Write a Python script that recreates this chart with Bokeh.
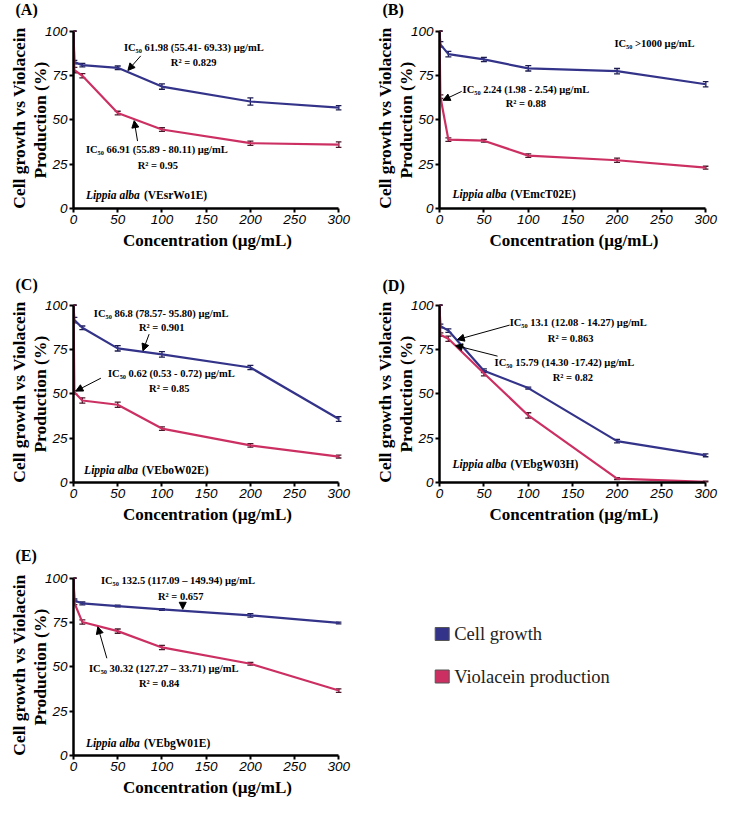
from bokeh.plotting import figure
from bokeh.layouts import column, row
from bokeh.models import Range1d, FixedTicker, ColumnDataSource, Whisker, TeeHead, Arrow, NormalHead
from bokeh.core.properties import value
from bokeh.embed import file_html
from bokeh.resources import INLINE

# ---------------- data ----------------
conc = [0, 1, 10, 50, 100, 200, 300]
x_ticks = [0, 50, 100, 150, 200, 250, 300]
y_ticks = [0, 25, 50, 75, 100]

A_growth = [100, 82.5, 80.8, 79.3, 68.7, 60.3, 56.8]
A_growth_err = [0, 1.0, 1.0, 1.0, 1.5, 2.0, 1.2]
A_viol = [100, 78.0, 74.8, 53.8, 44.5, 36.8, 36.0]
A_viol_err = [0, 1.5, 1.2, 1.0, 1.0, 1.2, 1.5]

B_growth = [100, 92.5, 87.0, 84.0, 79.0, 77.4, 70.0]
B_growth_err = [0, 1.5, 1.5, 1.2, 1.5, 1.5, 1.5]
B_viol = [100, 63.0, 38.8, 38.2, 29.8, 27.2, 23.0]
B_viol_err = [0, 1.0, 1.0, 0.8, 1.0, 1.2, 0.8]

C_growth = [100, 91.5, 87.2, 75.6, 72.2, 64.8, 35.8]
C_growth_err = [0, 1.5, 1.0, 1.5, 1.5, 1.2, 1.3]
C_viol = [100, 50.8, 46.2, 43.8, 30.4, 20.9, 14.6]
C_viol_err = [0, 1.0, 1.5, 1.5, 1.0, 1.0, 0.8]

D_growth = [100, 88.2, 85.6, 63.0, 53.2, 23.3, 15.3]
D_growth_err = [0, 1.0, 1.0, 1.0, 0.5, 1.0, 0.8]
D_viol = [100, 83.3, 81.0, 61.6, 37.8, 2.2, 0.4]
D_viol_err = [0, 1.0, 1.5, 1.5, 1.5, 0.5, 0.3]

E_growth = [100, 87.4, 85.7, 84.2, 82.3, 79.0, 74.7]
E_growth_err = [0, 0.8, 0.8, 0.5, 0.5, 1.0, 0.5]
E_viol = [100, 86.0, 75.2, 70.1, 60.9, 51.7, 36.6]
E_viol_err = [0, 1.0, 1.2, 1.2, 1.2, 0.8, 1.0]

row1_tags = ["(A)", "(B)"]
row2_tags = ["(C)", "(D)"]
row3_tags = ["(E)"]
strains = ["(VEsrWo1E)", "(VEmcT02E)", "(VEboW02E)", "(VEbgW03H)", "(VEbgW01E)"]

A_notes = ["IC₅₀ 61.98 (55.41- 69.33) µg/mL", "R² = 0.829",
           "IC₅₀ 66.91 (55.89 - 80.11) µg/mL", "R² = 0.95"]
B_notes = ["IC₅₀ >1000 µg/mL", "IC₅₀ 2.24 (1.98 - 2.54) µg/mL", "R² = 0.88"]
C_notes = ["IC₅₀ 86.8 (78.57- 95.80) µg/mL", "R² = 0.901",
           "IC₅₀ 0.62 (0.53 - 0.72) µg/mL", "R² = 0.85"]
D_notes = ["IC₅₀ 13.1 (12.08 - 14.27) µg/mL", "R² = 0.863",
           "IC₅₀ 15.79 (14.30 -17.42) µg/mL", "R² = 0.82"]
E_notes = ["IC₅₀ 132.5 (117.09 – 149.94) µg/mL", "R² = 0.657",
           "IC₅₀ 30.32 (127.27 – 33.71) µg/mL", "R² = 0.84"]

legend_labels = ["Cell growth", "Violacein production"]

# ---------------- positions / styles ----------------
BLUE = "#33338a"
RED = "#cc3063"
BLUE_ERR = "#1c1c50"
RED_ERR = "#4a1a2c"
legend_colors = [BLUE, RED]

A_notes_pos = [(57, 91), (110, 82), (14, 33), (72.5, 24.4)]
B_notes_pos = [(197, 93), (26, 67), (74.5, 59.3)]
C_notes_pos = [(23, 95.5), (74, 87.6), (39, 61.6), (85.5, 53)]
D_notes_pos = [(79, 90), (122, 81.4), (62, 67.8), (127.5, 59.3)]
E_notes_pos = [(31, 98.5), (95.5, 89.8), (17.5, 49), (74, 40.7)]

A_arrows = [(76, 86, 61.5, 77.8), (72.4, 38, 68.6, 49.5)]
B_arrows = [(25, 66, 4, 61)]
C_arrows = [(85.5, 83.6, 78.5, 74.2), (31, 58.8, 2.6, 51.5)]
D_arrows = [(79, 88.7, 20, 80.5), (65.4, 71.2, 18, 77.2)]
E_arrows = [(123.5, 86.4, 123.5, 82.4), (37.7, 54.8, 27.5, 72.5)]

strain_pos = [(14, 7.5), (14.7, 7.9), (12, 7.3), (14.7, 10.2), (14, 6.8)]

# tag strips, in page pixels (x from left, y from top)
row1_tag_xy = [(15, 8.5), (382, 8.5)]
row2_tag_xy = [(15, 284), (382, 284.5)]
row3_tag_xy = [(15, 555)]

SERIF = "Liberation Serif"
SANS = "Liberation Sans"
W = 743


def tag_strip(y0, y1, tags, xy):
    s = figure(width=W, height=y1 - y0, x_range=Range1d(0, W), y_range=Range1d(y1, y0),
               output_backend="svg", toolbar_location=None, min_border=0)
    s.title.visible = False
    s.axis.visible = False
    s.grid.visible = False
    s.outline_line_color = None
    s.text(x=[q[0] for q in xy], y=[q[1] for q in xy], text=tags, text_font=value(SERIF),
           text_font_size="16px", text_font_style="bold", text_baseline="middle",
           text_align="left", text_color="black")
    return s


def make_panel(i, growth, growth_err, viol, viol_err, notes, notes_pos, arrows,
               width, height, left, right, top, bottom):
    p = figure(width=width, height=height, x_range=Range1d(0, 303), y_range=Range1d(0, 102),
               output_backend="svg", toolbar_location=None,
               min_border_left=left, min_border_right=right,
               min_border_top=top, min_border_bottom=bottom)
    p.title.visible = False
    p.outline_line_color = None
    p.grid.visible = False

    for ax in (p.xaxis[0], p.yaxis[0]):
        ax.axis_line_width = 2.5
        ax.axis_line_color = "black"
        ax.major_tick_line_width = 2
        ax.major_tick_out = 4
        ax.major_tick_in = 0
        ax.minor_tick_line_color = None
        ax.major_label_text_font = SANS
        ax.major_label_text_font_style = "italic"
        ax.major_label_text_color = "black"
        ax.major_label_text_font_size = "13.5px"
        ax.major_label_standoff = 2
        ax.axis_label_text_font = SERIF
        ax.axis_label_text_font_style = "bold"
        ax.axis_label_text_color = "black"
    p.xaxis.bounds = (0, 300)
    p.yaxis.bounds = (0, 100)
    p.xaxis.ticker = FixedTicker(ticks=x_ticks)
    p.yaxis.ticker = FixedTicker(ticks=y_ticks)
    p.xaxis.axis_label = "Concentration (µg/mL)"
    p.xaxis.axis_label_text_font_size = "17px"
    p.xaxis.axis_label_standoff = 4
    p.yaxis.axis_label = "Cell growth vs Violacein\nProduction  (%)"
    p.yaxis.axis_label_text_font_size = "17.5px"
    p.yaxis.axis_label_standoff = -8
    p.yaxis.axis_label_text_line_height = 1.05

    for vals, errs, col, ecol in ((growth, growth_err, BLUE, BLUE_ERR), (viol, viol_err, RED, RED_ERR)):
        src = ColumnDataSource(dict(x=conc, y=vals,
                                    up=[v + e for v, e in zip(vals, errs)],
                                    lo=[v - e for v, e in zip(vals, errs)]))
        p.line("x", "y", source=src, line_color=col, line_width=2.2)
        w = Whisker(base="x", upper="up", lower="lo", source=src, dimension="height",
                    line_color=ecol, line_width=1.3,
                    upper_head=TeeHead(size=6, line_color=ecol, line_width=1.3),
                    lower_head=TeeHead(size=6, line_color=ecol, line_width=1.3))
        p.add_layout(w)

    nsrc = ColumnDataSource(dict(x=[q[0] for q in notes_pos], y=[q[1] for q in notes_pos], t=notes))
    p.text("x", "y", text="t", source=nsrc, text_font=value(SERIF), text_font_style="bold",
           text_font_size="10.5px", text_baseline="middle", text_align="left", text_color="black")

    for (x0, y0, x1, y1) in arrows:
        p.add_layout(Arrow(x_start=x0, y_start=y0, x_end=x1, y_end=y1, line_width=1,
                           line_color="black",
                           end=NormalHead(size=7, fill_color="black", line_color="black")))

    sx, sy = strain_pos[i]
    p.text(x=[sx], y=[sy], text=["Lippia alba"], text_font=value(SERIF),
           text_font_style="bold italic", text_font_size="11.5px",
           text_baseline="middle", text_color="black")
    p.text(x=[sx], y=[sy], text=[strains[i]], x_offset=58, text_font=value(SERIF),
           text_font_style="bold", text_font_size="11.5px",
           text_baseline="middle", text_color="black")
    return p


s1 = tag_strip(0, 18, row1_tags, row1_tag_xy)
pA = make_panel(0, A_growth, A_growth_err, A_viol, A_viol_err, A_notes, A_notes_pos, A_arrows,
                363, 252, 73, 22, 9, 62)
pB = make_panel(1, B_growth, B_growth_err, B_viol, B_viol_err, B_notes, B_notes_pos, B_arrows,
                380, 252, 76, 35, 9, 62)
s2 = tag_strip(270, 295, row2_tags, row2_tag_xy)
pC = make_panel(2, C_growth, C_growth_err, C_viol, C_viol_err, C_notes, C_notes_pos, C_arrows,
                363, 245, 73, 22, 6, 58)
pD = make_panel(3, D_growth, D_growth_err, D_viol, D_viol_err, D_notes, D_notes_pos, D_arrows,
                380, 245, 76, 35, 6, 58)
s3 = tag_strip(540, 565, row3_tags, row3_tag_xy)
pE = make_panel(4, E_growth, E_growth_err, E_viol, E_viol_err, E_notes, E_notes_pos, E_arrows,
                363, 261, 73, 22, 9, 71)

# legend cell, in page pixels
pL = figure(width=380, height=261, x_range=Range1d(363, 743), y_range=Range1d(755, 574),
            output_backend="svg", toolbar_location=None,
            min_border_left=0, min_border_right=0, min_border_top=9, min_border_bottom=71)
pL.title.visible = False
pL.axis.visible = False
pL.grid.visible = False
pL.outline_line_color = None
leg_y = [633.5, 676]
lsrc = ColumnDataSource(dict(x=[441.7] * 2, tx=[453.7] * 2, y=leg_y, c=legend_colors, t=legend_labels))
pL.rect("x", "y", width=14, height=13, source=lsrc, fill_color="c", line_color="#555555", line_width=1)
pL.text("tx", "y", text="t", source=lsrc, text_font=value(SERIF), text_font_size="18.5px",
        text_baseline="middle", text_color="#222222")

layout = column(s1, row(pA, pB), s2, row(pC, pD), s3, row(pE, pL))
open("out.html", "w").write(file_html(layout, INLINE))
